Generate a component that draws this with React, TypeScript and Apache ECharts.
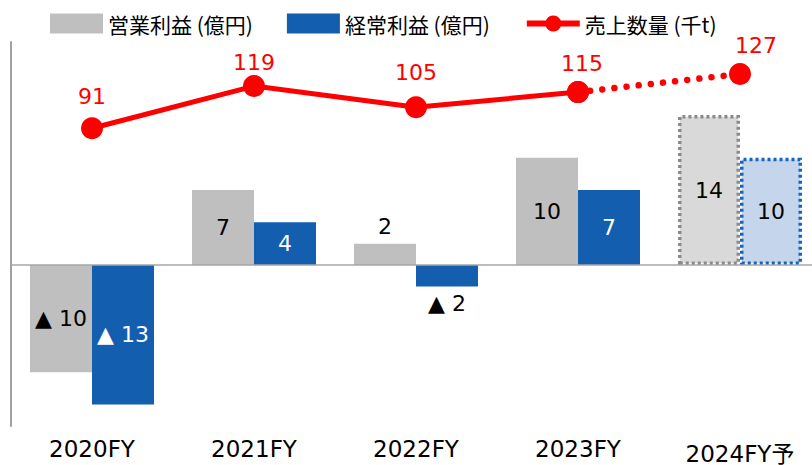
import React, { useEffect, useRef } from "react";
import * as echarts from "echarts";

const categories = ["2020FY", "2021FY", "2022FY", "2023FY", "2024FY予"];
const operatingProfit = [-10, 7, 2, 10, 14];
const ordinaryProfit = [-13, 4, -2, 7, 10];
const salesVolumeActual = [91, 119, 105, 115, null];
const salesVolumeForecast = [null, null, null, 115, 127];
const forecastIndex = 4;

const NAME_OP = "営業利益 (億円)";
const NAME_ORD = "経常利益 (億円)";
const NAME_VOL = "売上数量 (千t)";

const GRAY = "#bfbfbf";
const BLUE = "#135eaf";
const RED = "#ff0000";
const NUM_FONT = "DejaVu Sans, Noto Sans CJK JP, sans-serif";

const lineLabelLift = [10, 2, 13, 7, 7];
const lineLabelShift = [0, 0, 0, 4, 16];

const fmt = (v: number) => (v < 0 ? "▲ " + Math.abs(v) : String(v));

export default function App() {
  const ref = useRef<HTMLDivElement>(null);
  useEffect(() => {
    if (!ref.current) return;
    document.body.style.margin = "0";
    const chart = echarts.init(ref.current, null, { renderer: "svg" });

    const barItems = (vals: number[], isBlue: boolean) =>
      vals.map((v, i) => {
        const small = Math.abs(v) < 3;
        const fc = i === forecastIndex;
        const item: any = {
          value: v,
          label: {
            show: true,
            position: small ? (v >= 0 ? "top" : "bottom") : "inside",
            distance: 6,
            color: isBlue && !small && !fc ? "#ffffff" : "#000000",
            fontSize: 22,
            fontFamily: NUM_FONT,
            formatter: () => fmt(v),
          },
        };
        if (fc) {
          item.itemStyle = isBlue
            ? { color: "#c5d5ec", borderColor: "#1565c0", borderWidth: 3.5, borderType: [3, 3] }
            : { color: "#d9d9d9", borderColor: "#8a8a8a", borderWidth: 3.5, borderType: [3, 3] };
        }
        return item;
      });

    const lineItems = (vals: (number | null)[], showIdx: number[]) =>
      vals.map((v, i) =>
        v == null
          ? "-"
          : {
              value: v,
              label: {
                show: showIdx.includes(i),
                position: "top",
                distance: 0,
                offset: [lineLabelShift[i], -lineLabelLift[i]],
                color: RED,
                fontSize: 22,
                fontFamily: NUM_FONT,
              },
            }
      );

    chart.setOption({
      animation: false,
      legend: {
        data: [
          { name: NAME_OP, icon: "rect" },
          { name: NAME_ORD, icon: "rect" },
          { name: NAME_VOL, lineStyle: { width: 6 } },
        ],
        left: 50,
        top: 13,
        padding: 0,
        itemWidth: 53,
        itemHeight: 20,
        itemGap: 34,
        textStyle: { fontSize: 21, color: "#000", fontFamily: "Noto Sans CJK JP, sans-serif" },
      },
      grid: { left: 11, right: 0, top: 42, bottom: 39, containLabel: false },
      xAxis: {
        type: "category",
        data: categories.map((c, i) =>
          i === forecastIndex ? { value: c, textStyle: { padding: [5, 0, 0, 0] } } : c
        ),
        axisLine: { show: false },
        axisTick: { show: false },
        axisLabel: { fontSize: 23, color: "#000", fontFamily: NUM_FONT, margin: 11 },
      },
      yAxis: [
        {
          type: "value",
          min: -15,
          max: 20.8,
          axisLine: { show: true, lineStyle: { color: "#a0a0a0", width: 2 } },
          axisLabel: { show: false },
          axisTick: { show: false },
          splitLine: { show: false },
        },
        {
          type: "value",
          min: -106.9,
          max: 148.3,
          show: false,
          splitLine: { show: false },
        },
      ],
      series: [
        {
          name: NAME_OP,
          type: "bar",
          barWidth: 62,
          barGap: "0%",
          itemStyle: { color: GRAY },
          data: barItems(operatingProfit, false),
          markLine: {
            silent: true,
            symbol: "none",
            label: { show: false },
            lineStyle: { color: "#a6a6a6", width: 1.5, type: "solid" },
            data: [{ yAxis: 0 }],
          },
        },
        {
          name: NAME_ORD,
          type: "bar",
          barWidth: 62,
          barGap: "0%",
          itemStyle: { color: BLUE },
          data: barItems(ordinaryProfit, true),
        },
        {
          name: NAME_VOL,
          type: "line",
          yAxisIndex: 1,
          symbol: "circle",
          symbolSize: 22,
          itemStyle: { color: RED },
          lineStyle: { color: RED, width: 5 },
          z: 5,
          data: lineItems(salesVolumeActual, [0, 1, 2, 3]),
        },
        {
          name: "forecast",
          type: "line",
          yAxisIndex: 1,
          symbol: "circle",
          symbolSize: 22,
          itemStyle: { color: RED },
          lineStyle: { color: RED, width: 6.5, type: [0.01, 12.2], cap: "round" },
          z: 4,
          data: lineItems(salesVolumeForecast, [4]),
        },
      ],
    });
    return () => chart.dispose();
  }, []);
  return (
    <div style={{ width: 812, height: 465, overflow: "hidden", position: "relative" }}>
      <div ref={ref} style={{ width: 821, height: 465 }} />
    </div>
  );
}
